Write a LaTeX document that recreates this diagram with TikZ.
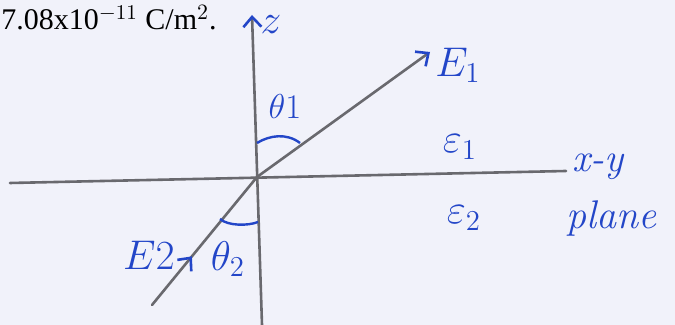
\documentclass[tikz,border=0pt]{standalone}
\usepackage{fontspec}
\newfontfamily\timesfont{Liberation Serif}
\usetikzlibrary{arrows.meta,positioning,decorations.markings}
\definecolor{pen}{RGB}{35,70,200}
\definecolor{paper}{RGB}{241,242,250}
\definecolor{pencil}{RGB}{105,105,110}

\begin{document}
\begin{tikzpicture}[x=0.5pt,y=0.5pt,>=Latex]
  \tikzstyle{axis}=[pencil,line width=1.3pt,line cap=round]
  \tikzstyle{hand}=[pen,inner sep=1pt,font=\fontsize{20}{22}\selectfont]
  \tikzstyle{barb}=[-{Straight Barb[color=pen,length=5pt,width=9pt,line width=1.3pt]}]
  \tikzstyle{midbarb}=[postaction={decorate},decoration={markings,mark=at position 0.38 with {\arrow{Straight Barb[color=pen,length=5pt,width=9pt,line width=1.3pt]}}}]
  \fill[paper] (0,0) rectangle (675,325);
  \useasboundingbox (0,0) rectangle (675,325);
  \coordinate (O) at (257,148);
  \coordinate (zbot) at (262,0);
  \coordinate (ztop) at (252,310);
  \coordinate (xl) at (10,142);
  \coordinate (xr) at (566,154);
  \coordinate (e1) at (430,273);
  \coordinate (e2) at (152,20);
  \node[anchor=base west,inner sep=0pt,font=\timesfont\fontsize{15}{17}\selectfont] (charge) at (1,295) {7.08x10$^{\mathrm{-11}}$ C/m$^{2}$.};
  \draw[axis] (xl) -- (xr);
  \draw[axis,barb] (zbot) -- (ztop);
  \draw[axis,barb] (O) -- (e1);
  \draw[axis,midbarb] (e2) -- (O);
  \draw[pen,line width=1.2pt] (257,182) .. controls (270,190) and (287,192) .. (300,182);
  \draw[pen,line width=1.2pt] (220,106) .. controls (228,99) and (248,99) .. (258,103);
  \node[hand,inner sep=0pt] (zlab) at (271,300) {$z$};
  \node[hand,font=\fontsize{17}{19}\selectfont] (th1) at (285,218) {$\theta 1$};
  \node[hand,anchor=west,font=\fontsize{22}{24}\selectfont] (E1lab) at (433,260) {$E_1$};
  \node[hand,font=\fontsize{22}{24}\selectfont] (eps1) at (460,178) {$\varepsilon_1$};
  \node[hand,font=\fontsize{22}{24}\selectfont] (eps2) at (464,107) {$\varepsilon_2$};
  \node[hand,right=2pt of xr,yshift=2pt] (xy) {\itshape x-y};
  \node[hand,below=8pt of xy,xshift=7pt] (plane) {\itshape plane};
  \node[hand,font=\fontsize{22}{24}\selectfont] (E2lab) at (149,70) {$E2$};
  \node[hand] (th2) at (228,66) {$\theta_2$};
\end{tikzpicture}
\end{document}
